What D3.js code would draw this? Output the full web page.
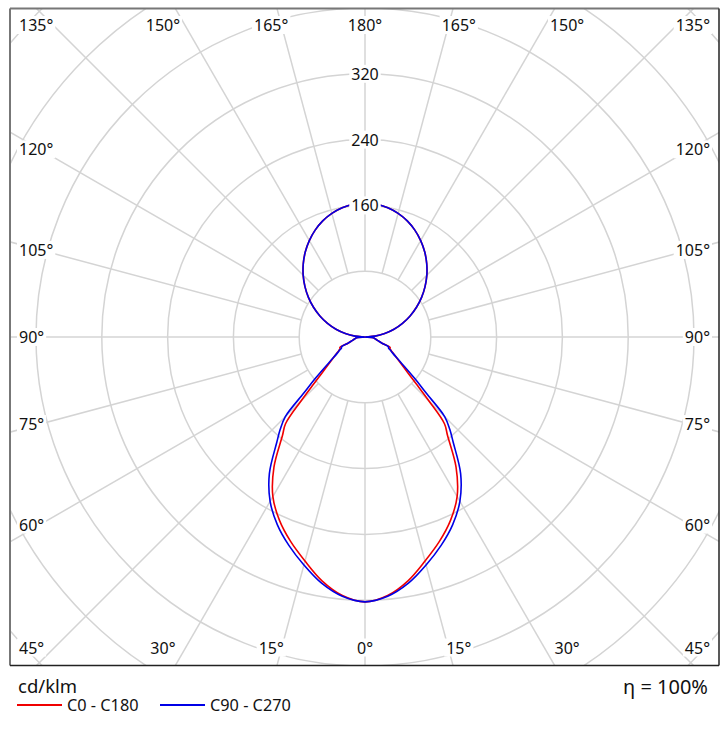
<!DOCTYPE html>
<html>
<head>
<meta charset="utf-8">
<script src="https://cdn.jsdelivr.net/npm/d3@7"></script>
<style>
  html, body { margin: 0; padding: 0; background: #fff; }
  svg { display: block; font-family: "Noto Sans", "DejaVu Sans", sans-serif; }
</style>
</head>
<body>
<svg id="chart" width="727" height="737"></svg>
<script>
// ---------- data ----------
const gammaAngles = [0,5,10,15,20,25,30,35,40,42.5,45,47.5,50,55,60,62.5,65,67.5,70,75,80,85,90,
                     95,100,105,110,115,120,125,130,135,140,145,150,155,160,165,170,175,180];
const upperLobe = [12.2,24.3,36.5,48.5,60.5,72.3,84,95.3,106.3,116.7,126.5,135.4,143.4,150.2,155.6,159.6,162.1,163];
const c0c180Lower = [322,315.5,301,282,264.5,246,224,193,156,143,110,85,68.5,50,39.6,36,33.5,33,22,15.7,12.4,10.2,0];
const c90c270Lower = [322,316.5,304,287,270,252,230.7,202.7,166.7,152.7,137.2,100.9,80,52,38.6,35,31.5,31,22,15.7,12.4,10.2,0];
const c0c180 = c0c180Lower.concat(upperLobe);
const c90c270 = c90c270Lower.concat(upperLobe);

const ringValues = [80,160,240,320,400,480,560,640];
const ringLabelValues = [160,240,320];
const spokeAngles = [0,15,30,45,60,75,90,105,120,135,150,165,180];
const seriesNames = ["C0 - C180","C90 - C270"];
const seriesColors = ["#f00000","#0000e6"];
const unitLabel = "cd/klm";
const efficiencyLabel = "η = 100%";

// ---------- layout ----------
const svg = d3.select("#chart");
const frame = {x: 10, y: 8.5, w: 709, h: 657};
const cx = 365, cy = 337;
const r = d3.scaleLinear().domain([0, 80]).range([0, 65.8]);
const rad = d => d * Math.PI / 180;

svg.append("defs").append("clipPath").attr("id", "clip")
  .append("rect").attr("x", frame.x).attr("y", frame.y).attr("width", frame.w).attr("height", frame.h);

const plot = svg.append("g").attr("clip-path", "url(#clip)");
const gridColor = "#d4d4d4";

// rings
plot.selectAll("circle.ring").data(ringValues).join("circle")
  .attr("class", "ring")
  .attr("cx", cx).attr("cy", cy).attr("r", d => r(d))
  .attr("fill", "none").attr("stroke", gridColor).attr("stroke-width", 1.5);

// spokes
const spokes = [];
spokeAngles.forEach(g => {
  spokes.push({g, s: 1});
  if (g !== 0 && g !== 180) spokes.push({g, s: -1});
});
plot.selectAll("line.spoke").data(spokes).join("line")
  .attr("class", "spoke")
  .attr("x1", d => cx + d.s * Math.sin(rad(d.g)) * r(80))
  .attr("y1", d => cy + Math.cos(rad(d.g)) * r(80))
  .attr("x2", d => cx + d.s * Math.sin(rad(d.g)) * 900)
  .attr("y2", d => cy + Math.cos(rad(d.g)) * 900)
  .attr("stroke", gridColor).attr("stroke-width", 1.5);

// curves
function buildPoints(values) {
  const pts = [];
  gammaAngles.forEach((g, i) => pts.push({a: Math.PI - rad(g), v: values[i]}));
  for (let i = gammaAngles.length - 2; i >= 1; i--) {
    pts.push({a: Math.PI + rad(gammaAngles[i]), v: values[i]});
  }
  return pts;
}
const radial = d3.lineRadial()
  .angle(d => d.a)
  .radius(d => r(d.v))
  .curve(d3.curveCatmullRomClosed.alpha(0.5));

const curveG = plot.append("g").attr("transform", `translate(${cx},${cy})`);
[c0c180, c90c270].forEach((vals, i) => {
  curveG.append("path")
    .attr("d", radial(buildPoints(vals)))
    .attr("fill", "none")
    .attr("stroke", seriesColors[i])
    .attr("stroke-width", 1.6)
    .attr("stroke-linejoin", "round");
});

// labels with white background
function labelWithBg(parent, x, y, text, anchor, size) {
  const g = parent.append("g");
  const t = g.append("text")
    .attr("x", x).attr("y", y)
    .attr("text-anchor", anchor)
    .attr("dominant-baseline", "central")
    .attr("font-size", size)
    .attr("fill", "#111")
    .text(text);
  const b = t.node().getBBox();
  g.insert("rect", "text")
    .attr("x", b.x - 2).attr("y", b.y + 2)
    .attr("width", b.width + 4).attr("height", b.height - 4)
    .attr("fill", "#fff");
}

const labelsG = svg.append("g");
// ring value labels on the 180° spoke
ringLabelValues.forEach(v => labelWithBg(labelsG, cx, cy - r(v), String(v), "middle", 16));

// angle labels
const sideHalf = 325, tbHalf = 350, topY = 25, botY = 647.5, leftX = 19, rightX = 710;
spokes.forEach(d => {
  const dx = d.s * Math.sin(rad(d.g));
  const dy = Math.cos(rad(d.g));
  const tSide = Math.abs(dx) > 1e-9 ? sideHalf / Math.abs(dx) : Infinity;
  const tTb = Math.abs(dy) > 1e-9 ? tbHalf / Math.abs(dy) : Infinity;
  const txt = d.g + "°";
  if (tSide < tTb) {
    let y = cy + dy * tSide;
    y = Math.max(topY, Math.min(botY, y));
    labelWithBg(labelsG, dx < 0 ? leftX : rightX, y, txt, dx < 0 ? "start" : "end", 16);
  } else {
    const x = cx + dx * tTb;
    labelWithBg(labelsG, x, dy < 0 ? topY : botY, txt, "middle", 16);
  }
});

// frame
svg.append("line").attr("x1", frame.x).attr("y1", frame.y).attr("x2", frame.x + frame.w).attr("y2", frame.y)
  .attr("stroke", "#777").attr("stroke-width", 2);
svg.append("line").attr("x1", frame.x).attr("y1", frame.y).attr("x2", frame.x).attr("y2", frame.y + frame.h)
  .attr("stroke", "#777").attr("stroke-width", 2);
svg.append("line").attr("x1", frame.x).attr("y1", frame.y + frame.h).attr("x2", frame.x + frame.w).attr("y2", frame.y + frame.h)
  .attr("stroke", "#222").attr("stroke-width", 1.5);
svg.append("line").attr("x1", frame.x + frame.w).attr("y1", frame.y).attr("x2", frame.x + frame.w).attr("y2", frame.y + frame.h)
  .attr("stroke", "#222").attr("stroke-width", 1.5);

// footer
svg.append("text").attr("x", 18).attr("y", 693).attr("font-size", 18.5).attr("fill", "#111").text(unitLabel);
svg.append("text").attr("x", 708).attr("y", 694).attr("font-size", 20).attr("text-anchor", "end").attr("fill", "#111").text(efficiencyLabel);

const legendX = [17, 160];
seriesNames.forEach((name, i) => {
  svg.append("line").attr("x1", legendX[i]).attr("x2", legendX[i] + 45)
    .attr("y1", 705).attr("y2", 705)
    .attr("stroke", seriesColors[i]).attr("stroke-width", 2);
  svg.append("text").attr("x", legendX[i] + 50).attr("y", 711)
    .attr("font-size", 16.3).attr("fill", "#111").text(name);
});
</script>
</body>
</html>
